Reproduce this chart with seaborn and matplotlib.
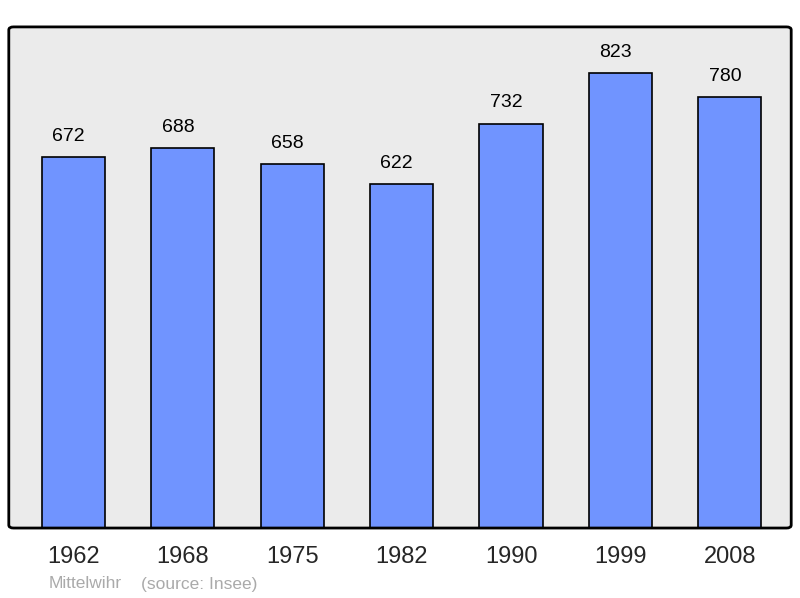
import matplotlib
matplotlib.use('Agg')
import matplotlib.pyplot as plt
from matplotlib.patches import FancyBboxPatch
import seaborn as sns
import pandas as pd

years = ['1962', '1968', '1975', '1982', '1990', '1999', '2008']
population = [672, 688, 658, 622, 732, 823, 780]

df = pd.DataFrame({'year': years, 'population': population})

sns.set_style('white')
plt.rcParams['font.family'] = ['Liberation Sans', 'DejaVu Sans']

fig = plt.figure(figsize=(8, 5.98), dpi=100)
ax = fig.add_axes([0.011, 0.117, 0.978, 0.838])
ax.set_facecolor('#ebebeb')

sns.barplot(data=df, x='year', y='population', color='#7094ff', saturation=1,
            width=0.577, edgecolor='black', linewidth=1.2, ax=ax)

# value labels sit a little left of the bar centre in the original
for i, v in enumerate(population):
    ax.text(i - 0.045, v + 22, str(v), ha='center', va='bottom', fontsize=14, color='black')

ax.set_xlim(-0.59, 6.56)
ax.set_ylim(0, 907)
ax.set_xlabel('')
ax.set_ylabel('')
ax.set_yticks([])
ax.tick_params(axis='x', length=0, labelsize=17, pad=13)

# rounded frame instead of plain spines
for s in ax.spines.values():
    s.set_visible(False)
frame = FancyBboxPatch((0, 0), 1, 1, boxstyle='round,pad=0,rounding_size=0.006',
                       transform=ax.transAxes, facecolor='none', edgecolor='black',
                       linewidth=2, clip_on=False, zorder=5)
ax.add_patch(frame)

fig.text(49 / 800, 1 - 584 / 598, 'Mittelwihr', color='#aaaaaa', fontsize=12.5, va='center')
fig.text(141 / 800, 1 - 584 / 598, '(source: Insee)', color='#aaaaaa', fontsize=12.5, va='center')

fig.savefig('out.png', dpi=100)
